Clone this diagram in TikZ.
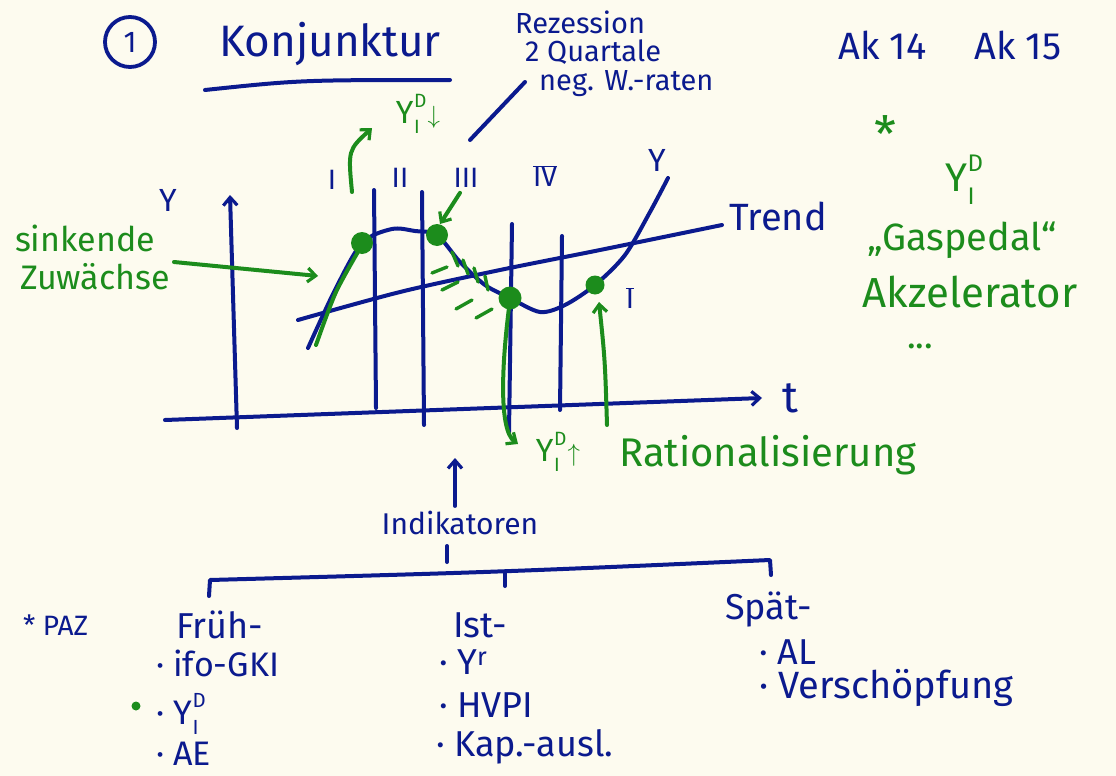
\documentclass[tikz,border=0pt]{standalone}
\usepackage{fontspec}
\setmainfont{Fira Sans}
\usetikzlibrary{arrows.meta}
\definecolor{ink}{HTML}{0B1A8E}
\definecolor{grn}{HTML}{1C8C1C}
\definecolor{paper}{HTML}{FDFBEF}
\newcommand{\YDI}{Y\kern0.5pt\rlap{\raisebox{0.5em}{\scalebox{0.6}{D}}}\raisebox{-0.32em}{\scalebox{0.6}{I}}\kern0.25em}
\newcommand{\fs}[1]{\fontsize{#1}{#1}\selectfont}
\begin{document}
\begin{tikzpicture}[x=1pt,y=-1pt,line cap=round,line join=round,
  pen/.style={draw=ink,line width=4pt},
  gpen/.style={draw=grn,line width=4pt},
  btxt/.style={text=ink,inner sep=1pt},
  gtxt/.style={text=grn,inner sep=1pt},
  tip/.style={-{Straight Barb[length=8pt,width=14pt,line width=3.2pt]}}]
\fill[paper] (0,0) rectangle (1116,776);
\useasboundingbox (0,0) rectangle (1116,776);

% header
\node[draw=ink,line width=3.8pt,circle,minimum size=50pt,text=ink,font=\fs{30}] (num) at (130,42) {1};
\node[btxt,font=\fs{44}] (title) at (330,44) {Konjunktur};
\draw[pen] (205,90) .. controls (300,80) .. (450,80);
\node[btxt,font=\fs{29},anchor=west] (rez1) at (514,22) {Rezession};
\node[btxt,font=\fs{29},anchor=west] (rez2) at (524,52) {2 Quartale};
\node[btxt,font=\fs{29},anchor=west] (rez3) at (538,84) {neg. W.-raten};
\coordinate (slA) at (470,140);
\coordinate (slB) at (525,82);
\draw[pen] (slA) -- (slB);
\node[btxt,font=\fs{38}] (ak) at (950,45) {Ak 14 \quad Ak 15};

% right note
\node[gtxt,font=\fs{50}] (star) at (885,134) {*};
\node[gtxt,font=\fs{40}] (ydi) at (965,180) {\YDI};
\node[gtxt,font=\fs{38}] (gas) at (962,240) {„Gaspedal“};
\node[gtxt,font=\fs{42}] (akz) at (970,292) {Akzelerator};
\node[gtxt,font=\fs{36}] (dots) at (920,346) {...};

% axes
\coordinate (yb) at (237,428);
\coordinate (yt) at (230,195);
\draw[pen,tip] (yb) -- (yt);
\coordinate (xl) at (165,420);
\coordinate (xr) at (762,398);
\draw[pen,tip] (xl) -- (xr);
\node[btxt,font=\fs{32}] (ylab) at (168,200) {Y};
\node[btxt,font=\fs{44}] (tlab) at (790,398) {t};

% phase lines
\draw[pen] (374,190) -- (376,408);
\draw[pen] (422,192) -- (424,425);
\draw[pen] (512,224) -- (509,432);
\draw[pen] (562,236) -- (560,410);
\node[btxt,font=\fs{28}] (p1) at (332,180) {I};
\node[btxt,font=\fs{28}] (p2) at (400,178) {II};
\node[btxt,font=\fs{28}] (p3) at (466,178) {III};
\node[btxt,font=\fs{28}] (p4) at (545,176) {$\overline{\mathrm{IV}}$};

% trend and curve
\draw[pen] plot[smooth] coordinates {(298,320) (400,292) (500,270) (600,250) (722,225)};
\node[btxt,font=\fs{38},anchor=west] (trend) at (728,216) {Trend};
\draw[pen] plot[smooth] coordinates {(308,348) (335,290) (362,243) (392,229) (415,231) (437,235) (460,262) (485,285) (510,298) (540,312) (565,305) (595,285) (625,255) (650,212) (668,178)};
\node[btxt,font=\fs{32}] (ycur) at (657,160) {Y};
\node[btxt,font=\fs{28}] (ilow) at (630,298) {$\overline{\mathrm{I}}$};

% green overlay
\draw[gpen] plot[smooth] coordinates {(316,345) (336,292) (362,245)};
\fill[grn] (362,243) circle (11);
\fill[grn] (437,235) circle (11);
\fill[grn] (510,298) circle (11.5);
\fill[grn] (595,285) circle (9.5);
\foreach \a/\b in {{(452,252)}/{(458,266)},{(463,260)}/{(468,274)},{(474,268)}/{(478,282)},{(485,276)}/{(488,290)},
                   {(432,273)}/{(447,267)},{(442,290)}/{(458,282)},{(456,309)}/{(472,300)},{(476,318)}/{(492,309)}}
  \draw[grn,line width=3.4pt] \a -- \b;

\node[gtxt,font=\fs{34}] (sink) at (85,238) {sinkende};
\node[gtxt,font=\fs{34}] (zuw) at (95,277) {Zuwächse};
\coordinate (szA) at (174,262);
\coordinate (szB) at (318,276);
\draw[gpen,tip] (szA) -- (szB);

\coordinate (d3) at (440,224);
\draw[gpen,tip] (p3.south) ++(-6,4) -- (d3);

\node[gtxt,font=\fs{32}] (ytop) at (418,114) {\YDI$\downarrow$};
\coordinate (gtA) at (352,192);
\draw[gpen,tip] (gtA) .. controls (348,150) .. (372,128);

\node[gtxt,font=\fs{32}] (ratY) at (558,452) {\YDI$\uparrow$};
\node[gtxt,font=\fs{40},anchor=west] (rat) at (618,455) {Rationalisierung};
\draw[gpen,tip] (510,300) .. controls (502,360) and (498,430) .. (518,444);
\coordinate (upA) at (607,425);
\coordinate (upB) at (599,302);
\draw[gpen,tip] (upA) .. controls (605,360) .. (upB);

% indicators
\node[btxt,font=\fs{30}] (ind) at (460,523) {Indikatoren};
\coordinate (indUp) at (455,458);
\draw[pen,tip] (ind.north -| indUp) ++(0,-4) -- (indUp);
\draw[pen] (447,546) -- (447,562);
\draw[pen] (209,596) -- (210,580) .. controls (500,572) .. (770,560) -- (771,575);
\draw[pen] (505,573) -- (505,586);

\node[btxt,font=\fs{28},anchor=west] (paz) at (22,625) {* PAZ};
\node[btxt,font=\fs{36},anchor=west] (fru) at (175,625) {Früh-};
\node[btxt,font=\fs{34},anchor=west] (f1) at (155,663) {· ifo-GKI};
\node[btxt,font=\fs{34},anchor=west] (f2) at (155,714) {· \YDI};
\node[btxt,font=\fs{34},anchor=west] (f3) at (155,754) {· AE};
\fill[grn] (136,706) circle (4.5);
\node[btxt,font=\fs{36},anchor=west] (ist) at (452,625) {Ist-};
\node[btxt,font=\fs{36},anchor=west] (i1) at (438,662) {· $\mathrm{Y}^{\mathrm{r}}$};
\node[btxt,font=\fs{36},anchor=west] (i2) at (438,705) {· HVPI};
\node[btxt,font=\fs{36},anchor=west] (i3) at (435,747) {· Kap.-ausl.};
\node[btxt,font=\fs{36},anchor=west] (spa) at (724,610) {Spät-};
\node[btxt,font=\fs{36},anchor=west] (s1) at (758,652) {· AL};
\node[btxt,font=\fs{38},anchor=west] (s2) at (758,688) {· Verschöpfung};
\end{tikzpicture}
\end{document}
